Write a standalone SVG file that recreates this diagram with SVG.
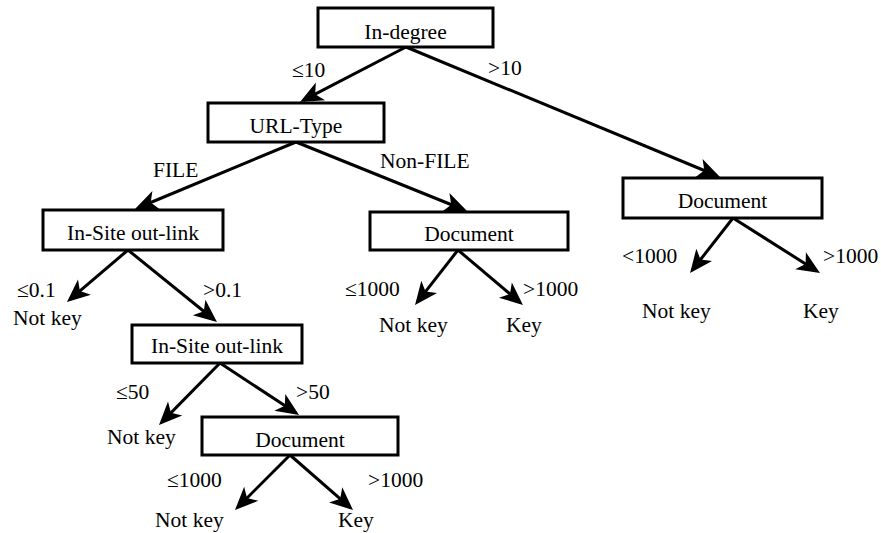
<svg xmlns="http://www.w3.org/2000/svg" width="881" height="533" viewBox="0 0 881 533" font-family="Liberation Serif, DejaVu Serif, serif">
<style>
.box{fill:#fff;stroke:#000;stroke-width:3}
.t{font-size:21.5px;fill:#000}
.c{text-anchor:middle}
.e{stroke:#000;stroke-width:3;fill:none;marker-end:url(#ah)}
</style>
<defs>
<marker id="ah" markerUnits="userSpaceOnUse" markerWidth="30" markerHeight="30" viewBox="-22 -12 30 24" refX="0" refY="0" orient="auto" overflow="visible">
<path d="M4,0 L-19,-10 L-13,0 L-19,10 Z" fill="#000"/>
</marker>
</defs>
<g id="connectors">
<line class="e" x1="406" y1="47" x2="303.6" y2="100.2"/>
<line class="e" x1="406" y1="47" x2="716.3" y2="175.5"/>
<line class="e" x1="296" y1="142" x2="138.7" y2="207.5"/>
<line class="e" x1="296" y1="142" x2="463.3" y2="209.5"/>
<line class="e" x1="128" y1="250" x2="70" y2="299.4"/>
<line class="e" x1="128" y1="250" x2="213.9" y2="319.5"/>
<line class="e" x1="458" y1="250" x2="417.5" y2="301.8"/>
<line class="e" x1="458" y1="250" x2="519.9" y2="302.4"/>
<line class="e" x1="733" y1="218" x2="692.5" y2="269.8"/>
<line class="e" x1="733" y1="218" x2="816.6" y2="270.9"/>
<line class="e" x1="220" y1="363" x2="161.8" y2="422.1"/>
<line class="e" x1="220" y1="363" x2="295.7" y2="412.8"/>
<line class="e" x1="290" y1="455" x2="237.8" y2="507.2"/>
<line class="e" x1="290" y1="455" x2="350" y2="507.4"/>
</g>
<g id="labels">
<text class="t" x="292" y="77">≤10</text>
<text class="t" x="488" y="75">&gt;10</text>
<text class="t" x="153" y="177">FILE</text>
<text class="t" x="380" y="168">Non-FILE</text>
<text class="t" x="17" y="297">≤0.1</text>
<text class="t" x="203" y="297">&gt;0.1</text>
<text class="t" x="345" y="296">≤1000</text>
<text class="t" x="523" y="296">&gt;1000</text>
<text class="t" x="622" y="263">&lt;1000</text>
<text class="t" x="823" y="263">&gt;1000</text>
<text class="t" x="116" y="399">≤50</text>
<text class="t" x="296" y="399">&gt;50</text>
<text class="t" x="167" y="487">≤1000</text>
<text class="t" x="368" y="487">&gt;1000</text>
</g>
<g id="n-indegree"><rect class="box" x="318" y="8" width="175" height="39"/><text class="t c" x="405.5" y="39">In-degree</text></g>
<g id="n-urltype"><rect class="box" x="208" y="103" width="176" height="39"/><text class="t c" x="296" y="133">URL-Type</text></g>
<g id="n-insite1"><rect class="box" x="43" y="210" width="180" height="40"/><text class="t c" x="133" y="240">In-Site out-link</text></g>
<g id="n-doc-mid"><rect class="box" x="370" y="212" width="198" height="38"/><text class="t c" x="469" y="241">Document</text></g>
<g id="n-doc-right"><rect class="box" x="623" y="178" width="199" height="40"/><text class="t c" x="722.5" y="208">Document</text></g>
<g id="n-insite2"><rect class="box" x="132" y="325" width="170" height="38"/><text class="t c" x="217" y="353">In-Site out-link</text></g>
<g id="n-doc-bottom"><rect class="box" x="202" y="417" width="196" height="38"/><text class="t c" x="300" y="447">Document</text></g>
<g id="l-notkey1"><text class="t" x="13" y="325">Not key</text></g>
<g id="l-notkey2"><text class="t" x="379" y="332">Not key</text></g>
<g id="l-key2"><text class="t" x="506" y="332">Key</text></g>
<g id="l-notkey3"><text class="t" x="642" y="318">Not key</text></g>
<g id="l-key3"><text class="t" x="803" y="318">Key</text></g>
<g id="l-notkey4"><text class="t" x="107" y="444">Not key</text></g>
<g id="l-notkey5"><text class="t" x="155" y="527">Not key</text></g>
<g id="l-key5"><text class="t" x="338" y="527">Key</text></g>
</svg>
